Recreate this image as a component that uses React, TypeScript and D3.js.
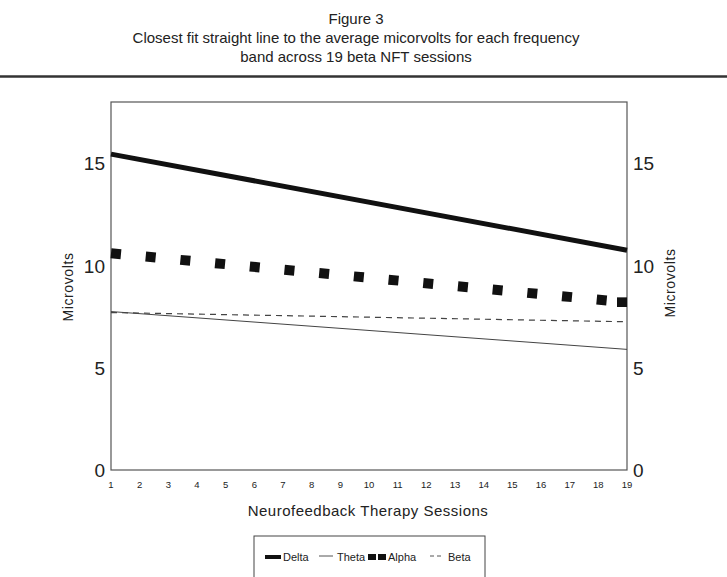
import React from "react";
import * as d3 from "d3";

const sessions = d3.range(1, 20);
const yTicks = [0, 5, 10, 15];
const endSessions = [1, 19];
const delta = [15.45, 10.75];
const theta = [7.75, 5.9];
const alpha = [10.6, 8.2];
const beta = [7.7, 7.25];
const titleLines = [
  "Figure 3",
  "Closest fit straight line to the average micorvolts for each frequency",
  "band across 19 beta NFT sessions",
];

const W = 727, H = 577;
const L = 111, R = 627, T = 102, B = 470;

export default function App() {
  const x = d3.scaleLinear().domain([1, 19]).range([L, R]);
  const y = d3.scaleLinear().domain([0, 18]).range([B, T]);
  const line = d3.line<number>().x((_, i) => x(endSessions[i])).y((d) => y(d));
  const font = "'Liberation Sans', Arial, sans-serif";
  const ink = "#111";
  return (
    <svg width={W} height={H} style={{ position: "absolute", left: 0, top: 0, background: "#fff" }} fontFamily={font}>
      <defs>
        <marker id="sq" viewBox="0 0 10 10" markerWidth={10} markerHeight={10} refX={10} refY={5} markerUnits="userSpaceOnUse" orient="0">
          <rect x={0} y={0} width={10} height={10} fill={ink} />
        </marker>
      </defs>
      {titleLines.map((t, i) => (
        <text key={i} x={356} y={24 + i * 19} textAnchor="middle" fontSize={15} fill="#222">{t}</text>
      ))}
      <line x1={0} x2={W} y1={76.5} y2={76.5} stroke="#333" strokeWidth={2.5} />
      <rect x={L} y={T} width={R - L} height={B - T} fill="none" stroke="#555" strokeWidth={1.2} />
      {yTicks.map((t) => (
        <g key={t}>
          <text x={L - 6} y={y(t) + 7} textAnchor="end" fontSize={19} fill="#222">{t}</text>
          <text x={R + 6} y={y(t) + 7} textAnchor="start" fontSize={19} fill="#222">{t}</text>
        </g>
      ))}
      {sessions.map((s) => (
        <text key={s} x={x(s)} y={488} textAnchor="middle" fontSize={9.5} fill="#222">{s}</text>
      ))}
      <text transform={`translate(73,${(T + B) / 2 + 1}) rotate(-90)`} textAnchor="middle" fontSize={14} fill="#222" letterSpacing={0.6}>Microvolts</text>
      <text transform={`translate(675,${(T + B) / 2 - 3}) rotate(-90)`} textAnchor="middle" fontSize={14} fill="#222" letterSpacing={0.6}>Microvolts</text>
      <text x={368} y={516} textAnchor="middle" fontSize={15} fill="#222" letterSpacing={0.5}>Neurofeedback Therapy Sessions</text>

      <path d={line(theta) || ""} fill="none" stroke="#444" strokeWidth={1} />
      <path d={line(beta) || ""} fill="none" stroke="#444" strokeWidth={1.2} strokeDasharray="6,5" />
      <path d={line(delta) || ""} fill="none" stroke={ink} strokeWidth={5} />
      <path d={line(alpha) || ""} fill="none" stroke={ink} strokeWidth={10} strokeDasharray="10,24.85" markerEnd="url(#sq)" />

      <rect x={254} y={536} width={231} height={45} fill="none" stroke="#444" strokeWidth={1} />
      <g fontSize={11} fill="#222">
        <line x1={265} x2={281} y1={557} y2={557} stroke={ink} strokeWidth={4} />
        <text x={283} y={561}>Delta</text>
        <line x1={319} x2={333} y1={556} y2={556} stroke="#555" strokeWidth={1} />
        <text x={337} y={561}>Theta</text>
        <line x1={368} x2={387} y1={557} y2={557} stroke={ink} strokeWidth={6} strokeDasharray="8,2" />
        <text x={388} y={561}>Alpha</text>
        <line x1={430} x2={444} y1={556} y2={556} stroke="#555" strokeWidth={1} strokeDasharray="4,3" />
        <text x={448} y={561}>Beta</text>
      </g>
    </svg>
  );
}
